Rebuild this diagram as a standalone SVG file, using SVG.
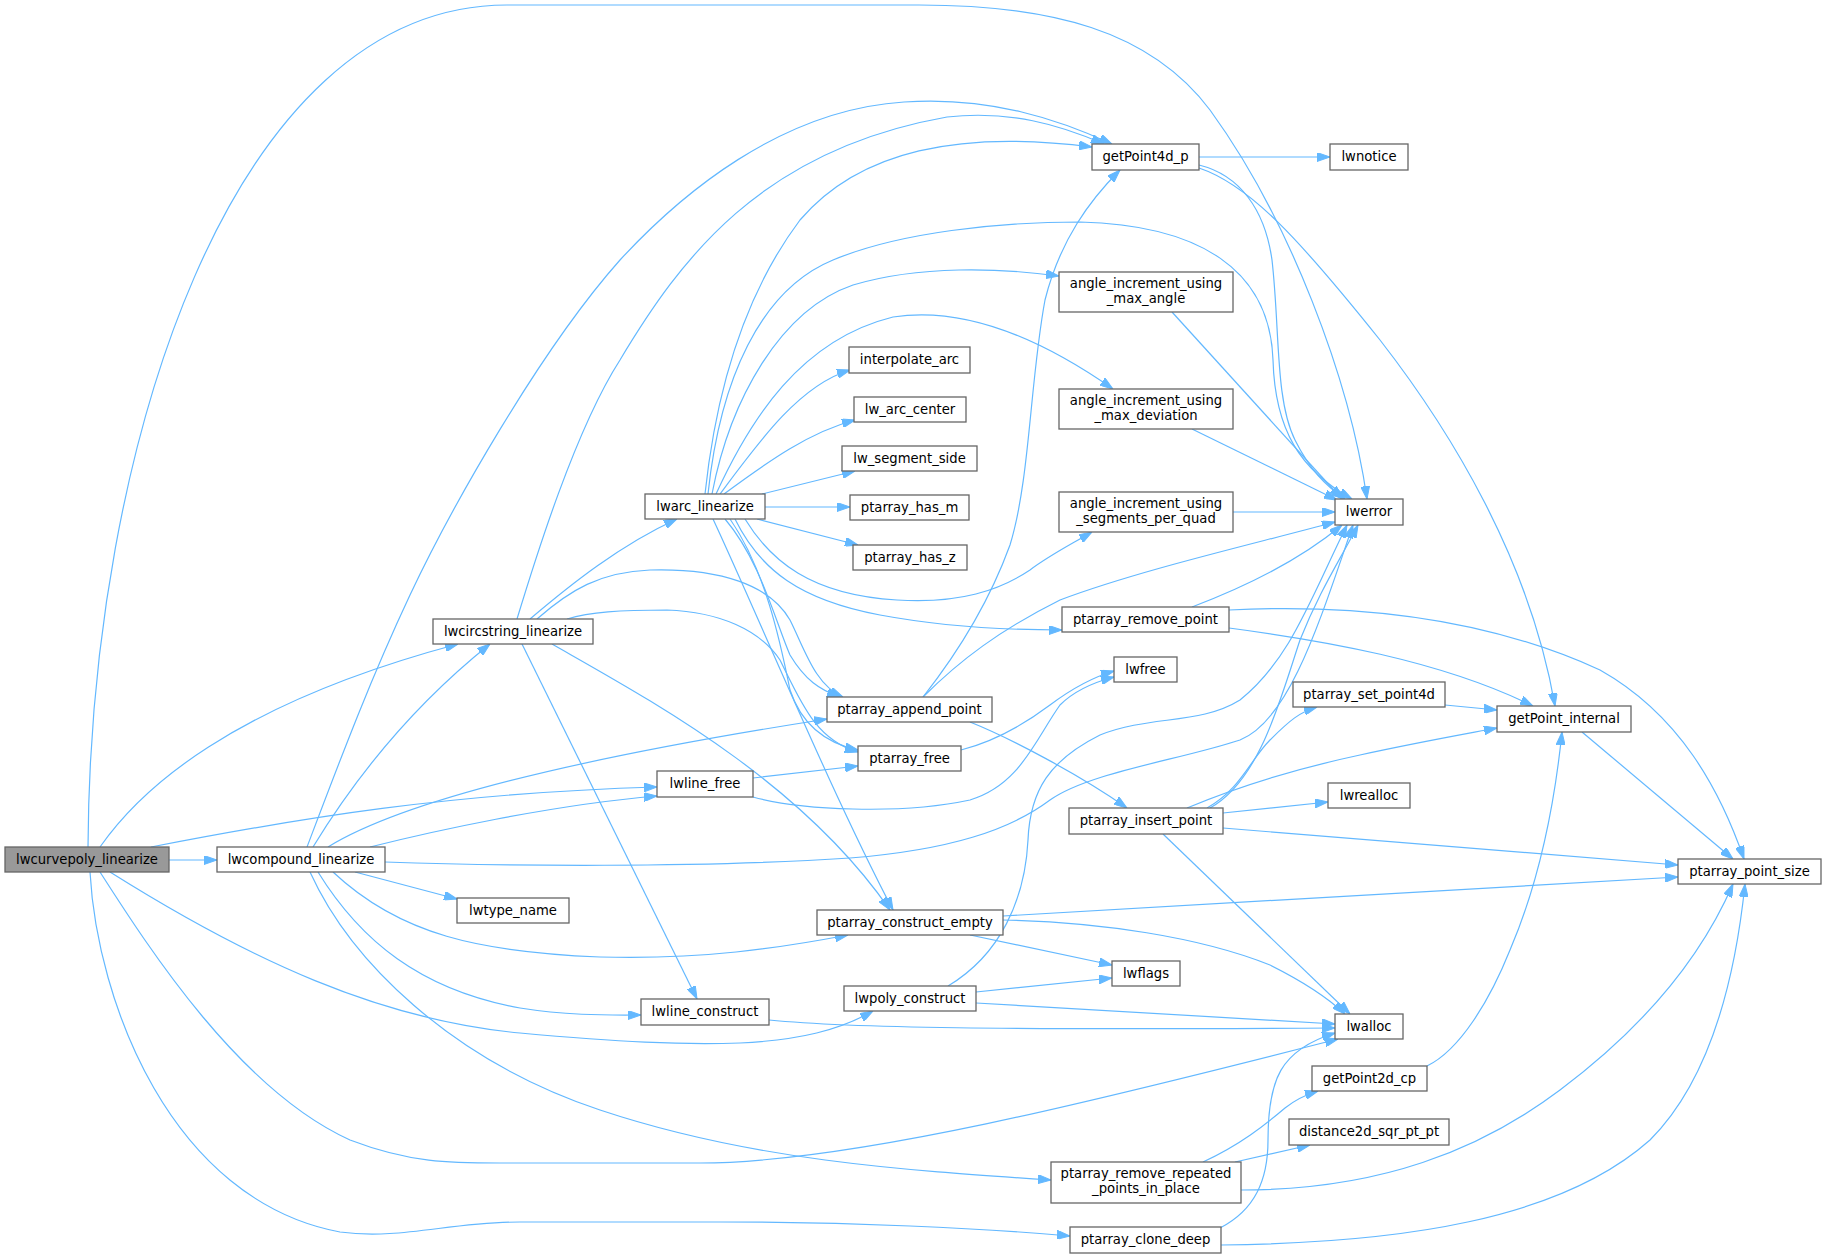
<svg xmlns="http://www.w3.org/2000/svg" width="1827" height="1258" viewBox="0 0 1827 1258">
<style>
.n rect{fill:#ffffff;stroke:#666666;stroke-width:1.3}
.n.main rect{fill:#999999}
.n text{font-family:"DejaVu Sans","Liberation Sans",sans-serif;font-size:13.2px;fill:#000000;text-anchor:middle}
#edges path{fill:none;stroke:#63b8ff;stroke-width:1.2;marker-end:url(#arr)}
</style>
<defs>
<marker id="arr" viewBox="0 0 13 9" refX="13" refY="4.5" markerWidth="13" markerHeight="9" orient="auto" markerUnits="userSpaceOnUse">
<path d="M0,0 L13,4.5 L0,9 z" fill="#63b8ff" stroke="#63b8ff" stroke-width="1"/>
</marker>
</defs>
<rect x="0" y="0" width="1827" height="1258" fill="#ffffff"/>
<g id="edges">
<path d="M169,860 L217,860"/>
<path d="M88,847 C90,450 230,5 507,5 L919,5 C1050,5 1150,30 1210,110 C1290,220 1350,380 1367,499"/>
<path d="M100,847 C140,790 230,705 458,644"/>
<path d="M151,847 C300,818 450,793 657,787"/>
<path d="M110,872 C250,960 380,1020 520,1033 C620,1042 680,1045 740,1043 C800,1040 840,1030 873,1011"/>
<path d="M100,872 C150,950 240,1090 350,1140 C410,1163 450,1163 500,1163 L700,1163 C850,1163 1100,1100 1338,1039"/>
<path d="M90,872 C97,1000 170,1200 340,1232 C400,1240 450,1222 520,1222 L720,1222 C850,1222 980,1228 1070,1236"/>
<path d="M307,847 C340,760 370,680 410,595 C450,510 540,350 620,260 C680,195 780,110 904,102 C990,96 1060,120 1112,144"/>
<path d="M313,847 C360,770 420,700 490,644"/>
<path d="M328,847 C380,815 500,770 827,719"/>
<path d="M370,847 C430,832 550,805 657,796"/>
<path d="M385,862 C500,866 700,868 850,858 C950,850 1010,830 1050,800 C1090,772 1180,760 1240,740 C1290,720 1320,620 1353,525"/>
<path d="M355,872 L457,899"/>
<path d="M333,872 C400,935 480,952 600,957 C700,960 780,948 848,935"/>
<path d="M318,872 C360,940 420,990 520,1008 C570,1016 610,1015 641,1015"/>
<path d="M310,872 C350,960 450,1060 600,1110 C750,1160 900,1170 1051,1180"/>
<path d="M517,619 C535,560 575,430 620,360 C680,260 760,150 947,117 C1010,110 1060,125 1104,144"/>
<path d="M530,619 C570,585 620,545 677,519"/>
<path d="M537,619 C570,590 600,572 650,570 C720,568 770,585 790,620 C805,650 815,685 843,697"/>
<path d="M567,619 C590,612 620,610 667,610 C720,612 760,630 780,660 C800,700 815,740 858,752"/>
<path d="M552,644 C650,700 800,780 890,910"/>
<path d="M522,644 L697,999"/>
<path d="M705,494 C715,400 740,300 800,220 C860,150 960,130 1092,147"/>
<path d="M708,494 C720,380 760,290 833,260 C900,232 1000,222 1080,222 C1200,225 1270,270 1273,360 C1275,430 1300,470 1352,499"/>
<path d="M712,494 C730,400 780,310 853,285 C920,265 1000,268 1059,276"/>
<path d="M716,494 C750,420 800,340 893,317 C970,305 1050,345 1113,389"/>
<path d="M720,494 C760,440 800,385 850,370"/>
<path d="M724,494 C770,460 810,432 855,420"/>
<path d="M762,494 L855,471"/>
<path d="M765,507 L850,507"/>
<path d="M757,519 L858,545"/>
<path d="M745,519 C770,560 810,595 897,600 C960,604 1000,590 1030,570 C1050,555 1070,545 1092,532"/>
<path d="M735,519 C760,570 800,600 880,615 C950,628 1010,630 1062,630"/>
<path d="M725,519 C760,560 775,620 790,655 C805,680 820,690 840,697"/>
<path d="M730,519 C765,570 780,640 790,690 C800,720 820,742 858,750"/>
<path d="M713,519 C760,620 830,790 893,910"/>
<path d="M753,778 L858,766"/>
<path d="M753,797 C800,810 900,815 970,800 C1020,785 1035,740 1060,705 C1075,690 1095,682 1114,677"/>
<path d="M961,750 C1000,740 1030,720 1050,705 C1070,690 1090,678 1114,671"/>
<path d="M923,697 C960,650 990,600 1010,545 C1030,480 1030,380 1045,300 C1060,240 1090,200 1120,170"/>
<path d="M923,697 C960,660 1000,630 1060,600 C1140,570 1250,545 1335,522"/>
<path d="M970,722 C1010,738 1080,775 1127,808"/>
<path d="M1199,157 L1330,157"/>
<path d="M1199,165 C1240,175 1265,210 1272,260 C1280,330 1275,400 1295,440 C1310,470 1325,485 1345,499"/>
<path d="M1199,168 C1250,185 1300,240 1380,340 C1450,430 1530,560 1555,706"/>
<path d="M1172,312 L1342,499"/>
<path d="M1192,429 L1337,500"/>
<path d="M1233,512 L1335,512"/>
<path d="M1192,607 C1250,585 1300,560 1342,525"/>
<path d="M1229,610 C1350,604 1480,615 1600,670 C1680,715 1720,790 1744,859"/>
<path d="M1229,628 C1320,640 1440,660 1533,706"/>
<path d="M1445,705 L1497,710"/>
<path d="M1187,808 C1230,790 1290,770 1360,755 C1420,742 1460,735 1497,728"/>
<path d="M1207,808 C1240,790 1250,760 1270,740 C1290,720 1300,712 1317,707"/>
<path d="M1210,808 C1260,780 1280,700 1300,640 C1320,590 1340,560 1358,525"/>
<path d="M1223,813 L1328,802"/>
<path d="M1223,828 L1678,865"/>
<path d="M1003,916 L1678,877"/>
<path d="M1582,732 L1733,859"/>
<path d="M1427,1066 C1460,1050 1490,1000 1510,950 C1540,880 1555,800 1562,732"/>
<path d="M1241,1190 C1380,1190 1480,1150 1560,1090 C1640,1030 1700,960 1733,884"/>
<path d="M1221,1245 C1400,1243 1560,1220 1650,1140 C1710,1080 1735,980 1745,884"/>
<path d="M1220,1228 C1255,1210 1268,1180 1268,1140 C1268,1080 1280,1050 1335,1033"/>
<path d="M1163,834 L1350,1014"/>
<path d="M1003,920 C1100,922 1200,937 1270,965 C1300,980 1325,995 1345,1014"/>
<path d="M970,935 L1112,965"/>
<path d="M976,992 L1112,978"/>
<path d="M976,1003 L1335,1024"/>
<path d="M769,1020 C850,1028 1000,1030 1335,1028"/>
<path d="M948,986 C1000,955 1025,900 1028,840 C1030,790 1050,760 1100,735 C1150,715 1200,725 1240,700 C1290,660 1310,600 1347,525"/>
<path d="M1203,1162 C1240,1145 1265,1125 1285,1108 C1295,1100 1305,1095 1318,1091"/>
<path d="M1235,1162 L1310,1145"/>
</g>
<g id="node-lwcurvepoly_linearize" class="n main"><rect x="5" y="847" width="164" height="25"/><text x="87" y="864">lwcurvepoly_linearize</text></g>
<g id="node-lwcompound_linearize" class="n"><rect x="217" y="847" width="168" height="25"/><text x="301" y="864">lwcompound_linearize</text></g>
<g id="node-lwcircstring_linearize" class="n"><rect x="433" y="619" width="160" height="25"/><text x="513" y="636">lwcircstring_linearize</text></g>
<g id="node-lwarc_linearize" class="n"><rect x="645" y="494" width="120" height="25"/><text x="705" y="511">lwarc_linearize</text></g>
<g id="node-getPoint4d_p" class="n"><rect x="1092" y="144" width="107" height="26"/><text x="1145.5" y="161">getPoint4d_p</text></g>
<g id="node-lwnotice" class="n"><rect x="1330" y="144" width="78" height="26"/><text x="1369" y="161">lwnotice</text></g>
<g id="node-angle_increment_using_max_angle" class="n"><rect x="1059" y="272" width="174" height="40"/><text x="1146" y="288">angle_increment_using</text><text x="1146" y="303">_max_angle</text></g>
<g id="node-angle_increment_using_max_deviation" class="n"><rect x="1059" y="389" width="174" height="40"/><text x="1146" y="405">angle_increment_using</text><text x="1146" y="420">_max_deviation</text></g>
<g id="node-angle_increment_using_segments_per_quad" class="n"><rect x="1059" y="492" width="174" height="40"/><text x="1146" y="508">angle_increment_using</text><text x="1146" y="523">_segments_per_quad</text></g>
<g id="node-lwerror" class="n"><rect x="1335" y="499" width="68" height="26"/><text x="1369" y="516">lwerror</text></g>
<g id="node-interpolate_arc" class="n"><rect x="849" y="347" width="121" height="26"/><text x="909.5" y="364">interpolate_arc</text></g>
<g id="node-lw_arc_center" class="n"><rect x="854" y="397" width="112" height="25"/><text x="910" y="414">lw_arc_center</text></g>
<g id="node-lw_segment_side" class="n"><rect x="842" y="446" width="135" height="25"/><text x="909.5" y="463">lw_segment_side</text></g>
<g id="node-ptarray_has_m" class="n"><rect x="850" y="495" width="119" height="25"/><text x="909.5" y="512">ptarray_has_m</text></g>
<g id="node-ptarray_has_z" class="n"><rect x="853" y="545" width="114" height="25"/><text x="910" y="562">ptarray_has_z</text></g>
<g id="node-ptarray_remove_point" class="n"><rect x="1062" y="607" width="167" height="25"/><text x="1145.5" y="624">ptarray_remove_point</text></g>
<g id="node-lwfree" class="n"><rect x="1114" y="657" width="63" height="25"/><text x="1145.5" y="674">lwfree</text></g>
<g id="node-ptarray_set_point4d" class="n"><rect x="1293" y="682" width="152" height="25"/><text x="1369" y="699">ptarray_set_point4d</text></g>
<g id="node-getPoint_internal" class="n"><rect x="1497" y="706" width="134" height="26"/><text x="1564" y="723">getPoint_internal</text></g>
<g id="node-ptarray_append_point" class="n"><rect x="827" y="697" width="165" height="25"/><text x="909.5" y="714">ptarray_append_point</text></g>
<g id="node-ptarray_free" class="n"><rect x="858" y="746" width="103" height="25"/><text x="909.5" y="763">ptarray_free</text></g>
<g id="node-lwline_free" class="n"><rect x="657" y="771" width="96" height="26"/><text x="705" y="788">lwline_free</text></g>
<g id="node-lwrealloc" class="n"><rect x="1328" y="783" width="82" height="25"/><text x="1369" y="800">lwrealloc</text></g>
<g id="node-ptarray_insert_point" class="n"><rect x="1069" y="808" width="154" height="26"/><text x="1146" y="825">ptarray_insert_point</text></g>
<g id="node-ptarray_point_size" class="n"><rect x="1678" y="859" width="143" height="25"/><text x="1749.5" y="876">ptarray_point_size</text></g>
<g id="node-lwtype_name" class="n"><rect x="457" y="898" width="112" height="25"/><text x="513" y="915">lwtype_name</text></g>
<g id="node-ptarray_construct_empty" class="n"><rect x="817" y="910" width="186" height="25"/><text x="910" y="927">ptarray_construct_empty</text></g>
<g id="node-lwflags" class="n"><rect x="1112" y="961" width="68" height="25"/><text x="1146" y="978">lwflags</text></g>
<g id="node-lwpoly_construct" class="n"><rect x="844" y="986" width="132" height="25"/><text x="910" y="1003">lwpoly_construct</text></g>
<g id="node-lwline_construct" class="n"><rect x="641" y="999" width="128" height="26"/><text x="705" y="1016">lwline_construct</text></g>
<g id="node-lwalloc" class="n"><rect x="1335" y="1014" width="68" height="25"/><text x="1369" y="1031">lwalloc</text></g>
<g id="node-getPoint2d_cp" class="n"><rect x="1312" y="1066" width="115" height="25"/><text x="1369.5" y="1083">getPoint2d_cp</text></g>
<g id="node-distance2d_sqr_pt_pt" class="n"><rect x="1289" y="1119" width="160" height="26"/><text x="1369" y="1136">distance2d_sqr_pt_pt</text></g>
<g id="node-ptarray_remove_repeated_points_in_place" class="n"><rect x="1051" y="1162" width="190" height="41"/><text x="1146" y="1178">ptarray_remove_repeated</text><text x="1146" y="1193">_points_in_place</text></g>
<g id="node-ptarray_clone_deep" class="n"><rect x="1070" y="1227" width="151" height="26"/><text x="1145.5" y="1244">ptarray_clone_deep</text></g>
</svg>
